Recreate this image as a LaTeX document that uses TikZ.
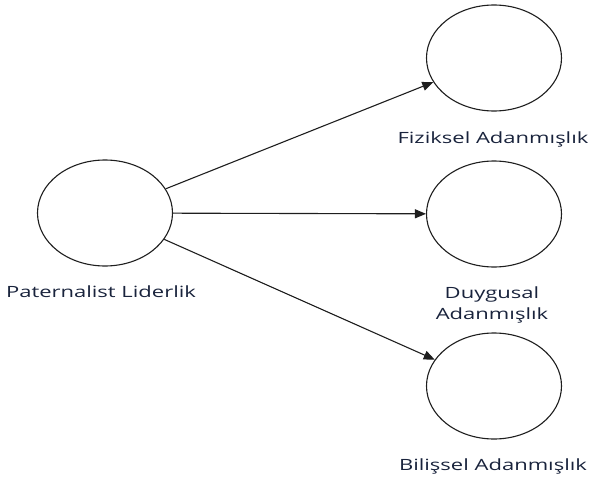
\documentclass[tikz,border=0pt]{standalone}
\usepackage{fontspec}
\setmainfont{Open Sans}
\usetikzlibrary{shapes.geometric,arrows.meta}
\definecolor{labelc}{RGB}{25,35,60}
\definecolor{linec}{RGB}{30,30,30}
\tikzset{
  latent/.style={ellipse,draw=linec,line width=1.1pt,minimum width=135pt,minimum height=106pt,inner sep=0pt},
  lbl/.style={text=labelc,font=\fontsize{15.5}{21}\selectfont,align=center,inner sep=0pt,xscale=1.42,transform shape,anchor=base},
  arr/.style={draw=linec,line width=1.1pt,-{Triangle[length=11pt,width=9pt]}}
}
\begin{document}
\begin{tikzpicture}[x=1pt,y=-1pt]
\useasboundingbox (0,0) rectangle (589,479);
\node[latent] (pl) at (105,213) {};
\node[latent] (fa) at (494,58) {};
\node[latent] (da) at (494,214) {};
\node[latent] (ba) at (494,386) {};
\node[lbl] (plt) at (101,297) {Paternalist Liderlik};
\node[lbl] (fat) at (493,143) {Fiziksel Adanmışlık};
\node[lbl] (dat) at (492,319) {Duygusal\\Adanmışlık};
\node[lbl] (bat) at (493,470) {Bilişsel Adanmışlık};
\draw[arr] (pl) -- (fa);
\draw[arr] (pl) -- (da);
\draw[arr] (pl) -- (ba);
\end{tikzpicture}
\end{document}
